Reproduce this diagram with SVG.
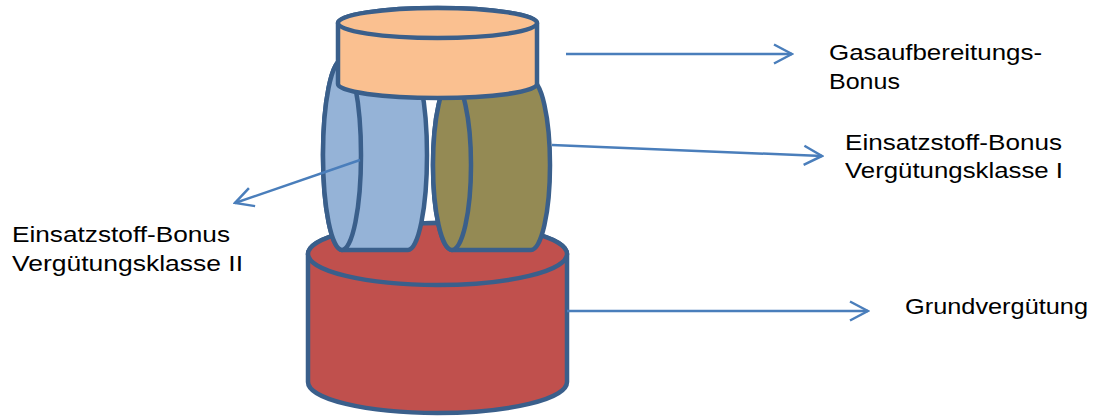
<svg xmlns="http://www.w3.org/2000/svg" width="1097" height="417" viewBox="0 0 1097 417">
<style>
.shape{stroke:#3A5F8B;stroke-width:4.5;stroke-linejoin:round}
.red{fill:#C0504D}.blue{fill:#95B3D7}.olive{fill:#948A54}.orange{fill:#FAC090}
.conn{fill:none;stroke:#4A7EBB;stroke-width:2.5;marker-end:url(#arr)}
.lbl{font-family:"Liberation Sans",Arial,sans-serif;font-size:22.5px;fill:#000}
</style>
<defs>
<marker id="arr" markerUnits="userSpaceOnUse" viewBox="0 0 22 22" markerWidth="22" markerHeight="22" refX="20" refY="11" orient="auto">
<path d="M2,1.5 L20,11 L2,20.5" fill="none" stroke="#4A7EBB" stroke-width="2.5"/>
</marker>
</defs>
<g id="grundverguetung-cyl">
<path class="shape red" d="M308,254 A129.5,31 0 0 1 567,254 L567,382 A129.5,31 0 0 1 308,382 Z"/>
<ellipse class="shape red" cx="437.5" cy="254" rx="129.5" ry="31"/>
</g>
<g id="klasse2-cyl">
<path class="shape blue" d="M342,60 L408,60 A19,95 0 0 1 408,250 L342,250 A19,95 0 0 1 342,60 Z"/>
<ellipse class="shape blue" cx="342" cy="155" rx="19" ry="95"/>
</g>
<g id="klasse1-cyl">
<path class="shape olive" d="M452,80 L531,80 A19,85 0 0 1 531,250 L452,250 A19,85 0 0 1 452,80 Z"/>
<ellipse class="shape olive" cx="452" cy="165" rx="19" ry="85"/>
</g>
<g id="gas-cyl">
<path class="shape orange" d="M338,23 A99.5,15 0 0 1 537,23 L537,84 A99.5,14 0 0 1 338,84 Z"/>
<ellipse class="shape orange" cx="437.5" cy="23" rx="99.5" ry="15"/>
</g>
<g id="connectors">
<line class="conn" x1="566" y1="54" x2="792" y2="54"/>
<line class="conn" x1="552" y1="145" x2="822" y2="156"/>
<line class="conn" x1="360" y1="160" x2="235" y2="203"/>
<line class="conn" x1="567" y1="311" x2="868" y2="311"/>
</g>
<g id="label-gas">
<text class="lbl" x="829" y="59.5" textLength="213" lengthAdjust="spacingAndGlyphs">Gasaufbereitungs-</text>
<text class="lbl" x="829" y="88.5" textLength="71" lengthAdjust="spacingAndGlyphs">Bonus</text>
</g>
<g id="label-klasse1">
<text class="lbl" x="845" y="149.5" textLength="217" lengthAdjust="spacingAndGlyphs">Einsatzstoff-Bonus</text>
<text class="lbl" x="845" y="178" textLength="218" lengthAdjust="spacingAndGlyphs">Vergütungsklasse I</text>
</g>
<g id="label-klasse2">
<text class="lbl" x="12" y="242" textLength="218" lengthAdjust="spacingAndGlyphs">Einsatzstoff-Bonus</text>
<text class="lbl" x="12" y="270.5" textLength="231" lengthAdjust="spacingAndGlyphs">Vergütungsklasse II</text>
</g>
<g id="label-grund">
<text class="lbl" x="905" y="314" textLength="183" lengthAdjust="spacingAndGlyphs">Grundvergütung</text>
</g>
</svg>
